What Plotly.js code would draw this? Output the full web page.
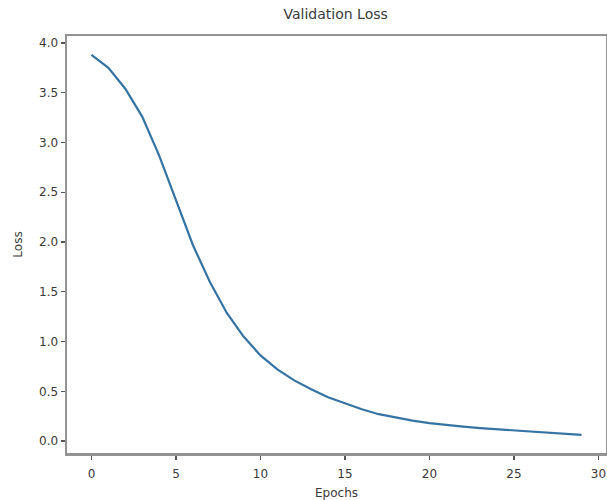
<!DOCTYPE html>
<html>
<head>
<meta charset="utf-8">
<script src="https://cdn.plot.ly/plotly-3.0.1.min.js"></script>
<style>
  html, body { margin: 0; padding: 0; background: #ffffff; }
  #chart { width: 607px; height: 500px; }
</style>
</head>
<body>
<div id="chart"></div>
<script>
// Validation loss per training epoch
const epochs = [0, 1, 2, 3, 4, 5, 6, 7, 8, 9,
                10, 11, 12, 13, 14, 15, 16, 17, 18, 19,
                20, 21, 22, 23, 24, 25, 26, 27, 28, 29];
const valLoss = [3.88, 3.75, 3.54, 3.26, 2.87, 2.42, 1.97, 1.60, 1.29, 1.05,
                 0.86, 0.72, 0.61, 0.52, 0.44, 0.38, 0.32, 0.27, 0.235, 0.205,
                 0.18, 0.16, 0.145, 0.13, 0.118, 0.105, 0.093, 0.082, 0.072, 0.062];
const xTicks = [0, 5, 10, 15, 20, 25, 30];
const yTicks = [0.0, 0.5, 1.0, 1.5, 2.0, 2.5, 3.0, 3.5, 4.0];
const yTickText = yTicks.map(v => v.toFixed(1));

const textColor = '#3a3a3a';
const frameColor = '#939393';
const fontFamily = 'DejaVu Sans, sans-serif';

const trace = {
  x: epochs,
  y: valLoss,
  type: 'scatter',
  mode: 'lines',
  line: { color: '#3574a2', width: 2.2 },
  hoverinfo: 'skip'
};

const axisCommon = {
  showgrid: false,
  zeroline: false,
  showline: true,
  mirror: true,
  linecolor: frameColor,
  linewidth: 2.5,
  ticks: 'outside',
  ticklen: 4,
  tickwidth: 1.2,
  tickcolor: '#555555',
  tickfont: { family: fontFamily, size: 12, color: textColor }
};

const layout = {
  width: 607,
  height: 500,
  margin: { l: 67, r: 1, t: 36, b: 47 },
  paper_bgcolor: '#ffffff',
  plot_bgcolor: '#ffffff',
  font: { family: fontFamily, size: 12, color: textColor },
  showlegend: false,
  title: {
    text: 'Validation Loss',
    font: { family: fontFamily, size: 14, color: textColor },
    x: 0.553, xanchor: 'center',
    y: 0.972, yanchor: 'middle'
  },
  xaxis: Object.assign({}, axisCommon, {
    range: [-1.45, 30.45],
    tickmode: 'array',
    tickvals: xTicks,
    ticktext: xTicks.map(String),
    ticklabelstandoff: 4,
    title: { text: 'Epochs', font: { family: fontFamily, size: 12, color: textColor }, standoff: 9 }
  }),
  yaxis: Object.assign({}, axisCommon, {
    range: [-0.12, 4.07],
    tickmode: 'array',
    tickvals: yTicks,
    ticktext: yTickText,
    title: { text: 'Loss', font: { family: fontFamily, size: 12, color: textColor }, standoff: 14 }
  })
};

Plotly.newPlot('chart', [trace], layout, { staticPlot: true, displayModeBar: false });
</script>
</body>
</html>
